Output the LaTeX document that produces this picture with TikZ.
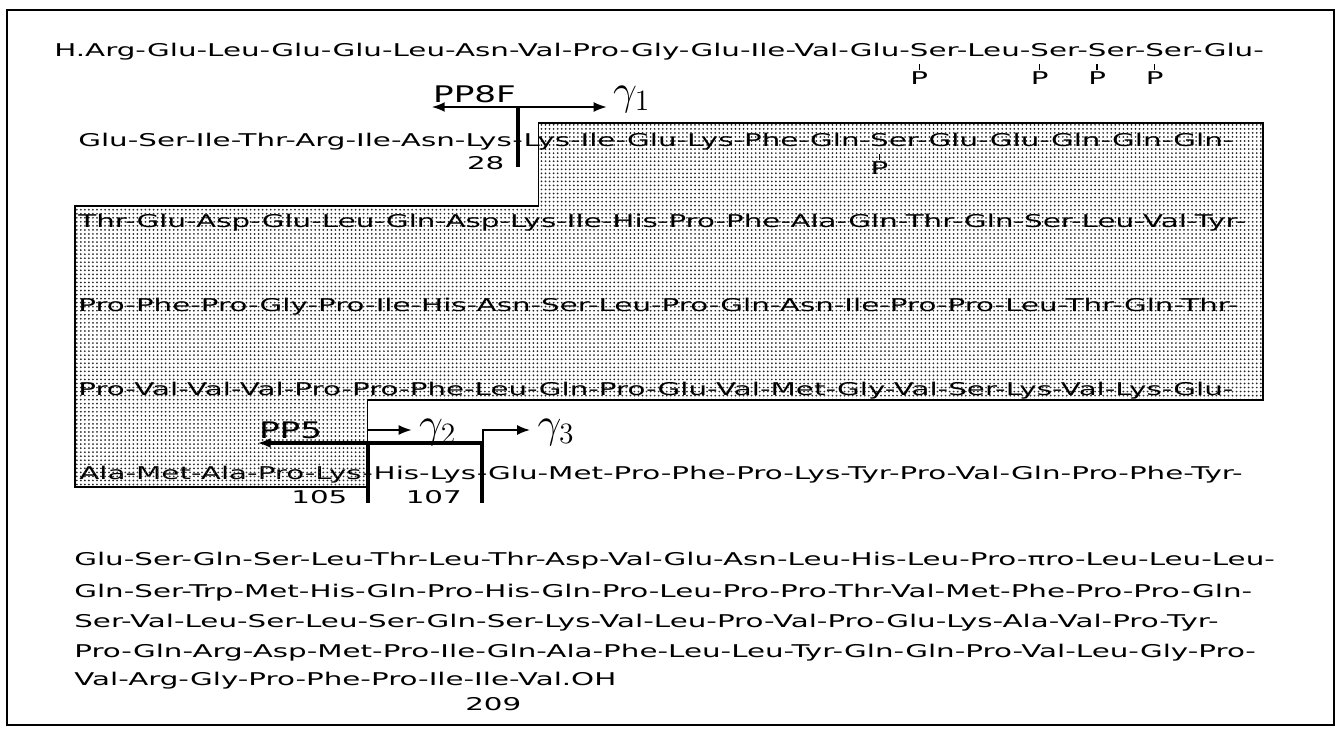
\documentclass[tikz,border=0pt]{standalone}
\usepackage{fontspec}
\usetikzlibrary{positioning,arrows.meta,patterns.meta}
\newfontfamily\seqfont[FakeStretch=1.67]{DejaVu Sans}
\newfontfamily\labfont[FakeStretch=1.5]{DejaVu Sans}

% phosphorylated serine: tick and P below the S
\newcommand{\pser}{%
  \setbox0\hbox{S}%
  \rlap{\hbox to\wd0{\hss\smash{\rule[-0.82em]{0.08em}{0.36em}}\hss}}%
  \rlap{\hbox to\wd0{\hss\smash{\raisebox{-1.6em}{P}}\hss}}%
  Ser}

\tikzdeclarepattern{
  name=halftone,
  type=uncolored,
  bounding box={(-1.15pt,-1.15pt) and (1.15pt,1.15pt)},
  tile size={(2.3pt,2.3pt)},
  code={\pgfpathcircle{\pgfpointorigin}{0.56pt}\pgfusepath{fill}}
}

\tikzset{
  seq/.style={inner sep=0pt, anchor=base west, font=\seqfont\fontsize{10}{12}\selectfont},
  num/.style={inner sep=0pt, anchor=base east, font=\seqfont\fontsize{10}{12}\selectfont},
  frag/.style={inner sep=0pt, font=\labfont\fontsize{13}{15}\selectfont},
  gam/.style={inner sep=0pt, anchor=west, scale=1.4, font=\LARGE},
  cleave/.style={line width=2.3pt},
  head/.style={-{Latex[length=7.4pt,width=5.7pt]}, line width=1.1pt},
  shade/.style={pattern={halftone}, pattern color=black!85, draw=black, line width=0.8pt}
}

\begin{document}
\begin{tikzpicture}[x=0.02cm, y=-0.02cm]
  \useasboundingbox (0,0) rectangle (1340,731);

  % Frame
  \draw[line width=1.1pt] (7,10) rectangle (1334,725);

  % Cut rows (positions needed for the shaded part)
  \node[seq] (r2a) at (78,146) {Glu-Ser-Ile-Thr-Arg-Ile-Asn-Lys};
  \node[seq] (c28) at (r2a.base east) {-};
  \node[seq] (r6a) at (79,479) {Ala-Met-Ala-Pro-Lys};
  \node[seq] (c105) at (r6a.base east) {-};
  \coordinate (s28) at ([shift={(21,0)}]c28.center);

  % Shaded part of the chain
  \draw[shade] (s28 |- 0,123) -- (1263,123) -- (1263,400) -- (c105.center |- 0,400)
    -- (c105.center |- 0,487) -- (75,487) -- (75,206) -- (s28 |- 0,206) -- cycle;

  % Sequence
  \node[seq] (r1) at (54,56) {H.Arg-Glu-Leu-Glu-Glu-Leu-Asn-Val-Pro-Gly-Glu-Ile-Val-Glu-\pser-Leu-\pser-\pser-\pser-Glu-};
  \node[seq] (r2b) at (c28.base east) {Lys-Ile-Glu-Lys-Phe-Gln-\pser-Glu-Glu-Gln-Gln-Gln-};
  \node[seq] (r3) at (78,227) {Thr-Glu-Asp-Glu-Leu-Gln-Asp-Lys-Ile-His-Pro-Phe-Ala-Gln-Thr-Gln-Ser-Leu-Val-Tyr-};
  \node[seq] (r4) at (78,311) {Pro-Phe-Pro-Gly-Pro-Ile-His-Asn-Ser-Leu-Pro-Gln-Asn-Ile-Pro-Pro-Leu-Thr-Gln-Thr-};
  \node[seq] (r5) at (78,395) {Pro-Val-Val-Val-Pro-Pro-Phe-Leu-Gln-Pro-Glu-Val-Met-Gly-Val-Ser-Lys-Val-Lys-Glu-};
  \node[seq] (r6b) at (c105.base east) {His-Lys};
  \node[seq] (c107) at (r6b.base east) {-};
  \node[seq] (r6c) at (c107.base east) {Glu-Met-Pro-Phe-Pro-Lys-Tyr-Pro-Val-Gln-Pro-Phe-Tyr-};
  \node[seq] (r7) at (74,565) {Glu-Ser-Gln-Ser-Leu-Thr-Leu-Thr-Asp-Val-Glu-Asn-Leu-His-Leu-Pro-πro-Leu-Leu-Leu-};
  \node[seq] (r8) at (74,597) {Gln-Ser-Trp-Met-His-Gln-Pro-His-Gln-Pro-Leu-Pro-Pro-Thr-Val-Met-Phe-Pro-Pro-Gln-};
  \node[seq] (r9) at (74,627) {Ser-Val-Leu-Ser-Leu-Ser-Gln-Ser-Lys-Val-Leu-Pro-Val-Pro-Glu-Lys-Ala-Val-Pro-Tyr-};
  \node[seq] (r10) at (74,657) {Pro-Gln-Arg-Asp-Met-Pro-Ile-Gln-Ala-Phe-Leu-Leu-Tyr-Gln-Gln-Pro-Val-Leu-Gly-Pro-};
  \node[seq] (r11) at (74,685) {Val-Arg-Gly-Pro-Phe-Pro-Ile-Ile-Val.OH};
  \node[num] (n209) at ([shift={(-95,25)}]r11.base east) {209};

  % Cleavage 28 (PP8F / gamma1)
  \coordinate (t28) at (c28.center |- 0,107);
  \coordinate (b28) at (c28.center |- 0,167);
  \draw[cleave] (t28) -- (b28);
  \node[num] (n28) at ([shift={(-13,2)}]b28) {28};
  \coordinate (pp8fend) at ([shift={(-86,0)}]t28);
  \coordinate (g1end) at ([shift={(89,0)}]t28);
  \draw[head] (t28) -- (pp8fend);
  \draw[head] (t28) -- (g1end);
  \node[frag, anchor=south west] (pp8f) at ([shift={(1,-4)}]pp8fend) {PP8F};
  \node[gam] (g1) at ([shift={(6,-8)}]g1end) {$\gamma_1$};

  % Cleavages 105 and 107 (PP5 / gamma2 / gamma3)
  \coordinate (t105) at (c105.center |- 0,443);
  \coordinate (b105) at (c105.center |- 0,503);
  \coordinate (t107) at (c107.center |- 0,443);
  \coordinate (b107) at (c107.center |- 0,503);
  \draw[cleave] (t105) -- (b105);
  \draw[cleave] (t107) -- (b107);
  \coordinate (pp5end) at ([shift={(-110,0)}]t105);
  \draw[cleave, -{Latex[length=7.4pt,width=5.7pt]}] (t107) -- (pp5end);
  \node[frag, anchor=south west] (pp5) at ([shift={(1,-4)}]pp5end) {PP5};
  \coordinate (s105) at ([shift={(0,-13)}]t105);
  \coordinate (g2end) at ([shift={(44,0)}]s105);
  \draw[head] (s105) -- (g2end);
  \node[gam] (g2) at ([shift={(7,2)}]g2end) {$\gamma_2$};
  \coordinate (s107) at ([shift={(1,-13)}]t107);
  \coordinate (g3end) at ([shift={(47,0)}]s107);
  \draw[head] ([shift={(1,0)}]t107) -- (s107) -- (g3end);
  \node[gam] (g3) at ([shift={(7,2)}]g3end) {$\gamma_3$};

  % Residue numbers
  \node[num] (n105) at ([shift={(-20,0)}]b105) {105};
  \node[num] (n107) at ([shift={(-20,0)}]b107) {107};
\end{tikzpicture}
\end{document}
